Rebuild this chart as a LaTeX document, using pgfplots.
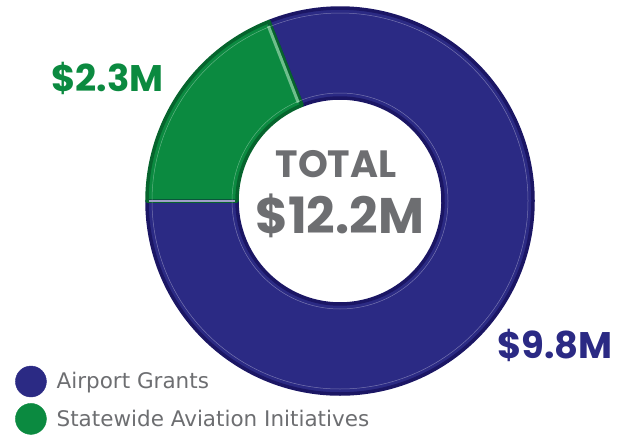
\documentclass[border=0pt]{standalone}
\usepackage{fontspec}
\setmainfont{DejaVu Sans}
\newfontfamily\headfont{Poppins}
\usepackage{pgfplots}
\usepackage{pgfplotstable}
\pgfplotsset{compat=1.18}

\definecolor{grants}{RGB}{43,42,132}
\definecolor{grantsrim}{RGB}{27,22,100}
\definecolor{state}{RGB}{11,138,64}
\definecolor{staterim}{RGB}{6,100,45}
\definecolor{statelite}{RGB}{110,190,140}
\definecolor{txtgray}{RGB}{109,110,113}

% budget in millions of dollars
\pgfplotstableread{
share value
grants 9.8
statewide 2.3
}\budget
\pgfplotstablegetelem{0}{value}\of\budget \let\vgrants\pgfplotsretval
\pgfplotstablegetelem{1}{value}\of\budget \let\vstate\pgfplotsretval
\pgfmathsetmacro\spanstate{360*\vstate/(\vgrants+\vstate)}
\pgfmathsetmacro\startstate{180-\spanstate}
\pgfmathsetmacro\endgrants{360+\startstate}

% ring sector between two angles, centre (c), radii 193pt and 103pt
\newcommand\sector[2]{([shift={(#1:193pt)}]c) arc[start angle=#1,end angle=#2,radius=193pt]
  -- ([shift={(#2:103pt)}]c) arc[start angle=#2,end angle=#1,radius=103pt] -- cycle}

\begin{document}
\begin{tikzpicture}
\begin{axis}[
    scale only axis,
    width=626pt, height=437pt,
    xmin=0, xmax=626, ymin=0, ymax=437,
    hide axis,
    clip=false,
    legend style={draw=none, fill=none, at={(0.024,0.005)}, anchor=south west,
        font=\fontsize{21.5}{23}\selectfont\color{txtgray},
        row sep=6pt, column sep=8pt, inner sep=0pt},
    legend cell align=left,
]
\coordinate (c) at (axis cs:340,236);

\fill[grants] \sector{180}{\endgrants};
\fill[state] \sector{\startstate}{180};

% bevel rims
\draw[grantsrim, line width=3.5pt, line join=round] \sector{180}{\endgrants};
\draw[staterim, line width=3.5pt, line join=round] \sector{\startstate}{180};
\draw[statelite, line width=3pt] ([shift={(\startstate+1.4:107pt)}]c) -- ([shift={(\startstate+0.7:189pt)}]c);
\draw[white, opacity=0.35, line width=0.5pt] ([shift={(180:188pt)}]c) arc[start angle=180,end angle=\endgrants,radius=188pt];
\draw[white, opacity=0.35, line width=0.5pt] ([shift={(180:108pt)}]c) arc[start angle=180,end angle=\endgrants,radius=108pt];
\draw[white, opacity=0.35, line width=0.5pt] ([shift={(\startstate:188pt)}]c) arc[start angle=\startstate,end angle=180,radius=188pt];
\draw[white, opacity=0.35, line width=0.5pt] ([shift={(\startstate:108pt)}]c) arc[start angle=\startstate,end angle=180,radius=108pt];
\draw[white!55!grants, line width=2pt] ([shift={(180:105pt)}]c) -- ([shift={(180:191pt)}]c);

% centre and slice labels
\node[font=\headfont\bfseries\fontsize{38}{40}\selectfont, text=txtgray, anchor=base] at (axis cs:336,260) {TOTAL};
\node[font=\headfont\bfseries\fontsize{50}{52}\selectfont, text=txtgray, anchor=base] at (axis cs:339.5,204) {\$12.2M};
\node[font=\headfont\bfseries\fontsize{37}{40}\selectfont, text=state, anchor=base] at (axis cs:107.5,345) {\$2.3M};
\node[font=\headfont\bfseries\fontsize{37}{40}\selectfont, text=grants, anchor=base] at (axis cs:555,79) {\$9.8M};

\addlegendimage{legend image code/.code={\fill[grants] (5pt,0pt) circle (15.5pt);}}
\addlegendentry{Airport Grants}
\addlegendimage{legend image code/.code={\fill[state] (5pt,0pt) circle (15.5pt);}}
\addlegendentry{Statewide Aviation Initiatives}
\end{axis}
\pgfresetboundingbox
\path[use as bounding box] (current axis.south west) rectangle (current axis.north east);
\end{tikzpicture}
\end{document}
